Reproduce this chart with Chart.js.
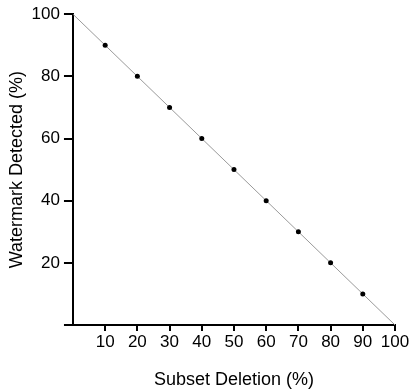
<!DOCTYPE html>
<html>
<head>
<meta charset="utf-8">
<script src="https://cdn.jsdelivr.net/npm/chart.js@4"></script>
<style>
  body { margin: 0; background: #fff; }
  #wrap { width: 415px; height: 391px; }
</style>
</head>
<body>
<div id="wrap"><canvas id="deletionChart" width="415" height="391"></canvas></div>
<script>
// data
const deletion = [0, 10, 20, 30, 40, 50, 60, 70, 80, 90, 100];
const detected = [100, 90, 80, 70, 60, 50, 40, 30, 20, 10, 0];
// end points are only line ends, no marker
const markerShown = [false, true, true, true, true, true, true, true, true, true, false];

const xTicks = [10, 20, 30, 40, 50, 60, 70, 80, 90, 100];
const yTicks = [20, 40, 60, 80, 100];

const font = { family: '"Liberation Sans", Arial, sans-serif', size: 17 };
const titleFont = { family: font.family, size: 18 };

const points = deletion.map(function (x, i) { return { x: x, y: detected[i] }; });

new Chart(document.getElementById('deletionChart'), {
    type: 'line',
    data: {
        datasets: [{
            data: points,
            borderColor: '#9a9a9a',
            borderWidth: 1,
            pointRadius: markerShown.map(function (s) { return s ? 2.5 : 0; }),
            pointBackgroundColor: '#000',
            pointBorderColor: '#000',
            pointBorderWidth: 0,
            tension: 0
        }]
    },
    options: {
        responsive: false,
        animation: false,
        layout: { padding: { top: 4, right: 20, left: 6, bottom: 0 } },
        plugins: { legend: { display: false }, tooltip: { enabled: false } },
        scales: {
            x: {
                type: 'linear',
                min: 0,
                max: 100,
                afterBuildTicks: function (axis) {
                    axis.ticks = [0].concat(xTicks).map(function (v) { return { value: v }; });
                },
                border: { color: '#000', width: 2 },
                grid: {
                    drawOnChartArea: false,
                    drawTicks: true,
                    tickLength: 6,
                    lineWidth: 2,
                    color: function (ctx) { return ctx.tick && ctx.tick.value === 0 ? 'rgba(0,0,0,0)' : '#000'; }
                },
                ticks: {
                    color: '#000',
                    font: font,
                    padding: 1,
                    maxRotation: 0,
                    callback: function (v) { return v === 0 ? '' : v; }
                },
                title: {
                    display: true,
                    text: 'Subset Deletion (%)',
                    color: '#000',
                    font: titleFont,
                    padding: { top: 16, bottom: 0 }
                }
            },
            y: {
                type: 'linear',
                min: 0,
                max: 100,
                afterBuildTicks: function (axis) {
                    axis.ticks = [0].concat(yTicks).map(function (v) { return { value: v }; });
                },
                border: { color: '#000', width: 2 },
                grid: {
                    drawOnChartArea: false,
                    drawTicks: true,
                    tickLength: 9,
                    lineWidth: 2,
                    color: '#000'
                },
                ticks: {
                    color: '#000',
                    font: font,
                    padding: 4,
                    callback: function (v) { return v === 0 ? '' : v; }
                },
                title: {
                    display: true,
                    text: 'Watermark Detected (%)',
                    color: '#000',
                    font: titleFont,
                    padding: { top: 0, bottom: 0 }
                }
            }
        }
    }
});
</script>
</body>
</html>
